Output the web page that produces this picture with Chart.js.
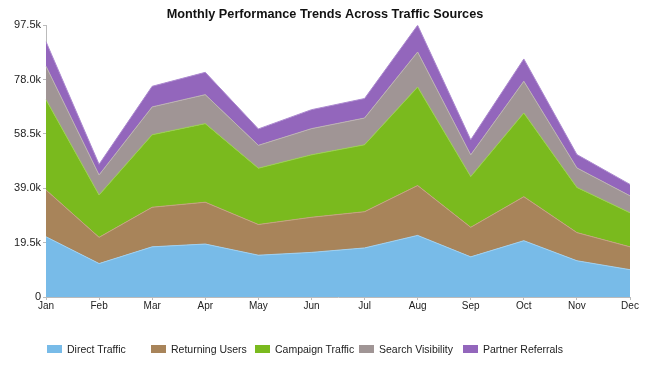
<!DOCTYPE html>
<html>
<head>
<meta charset="utf-8">
<script src="https://cdn.jsdelivr.net/npm/chart.js@4.4.1/dist/chart.umd.min.js"></script>
<style>
  body { margin: 0; background: #fff; }
  #wrap { position: relative; width: 650px; height: 366px; }
  #legend { position: absolute; left: 47px; top: 343px; display: flex; font: 10.5px "Liberation Sans", Arial, sans-serif; color: #222; }
  .item { width: 104px; display: flex; align-items: center; white-space: nowrap; }
  .box { width: 15px; height: 8px; margin-right: 5px; }
</style>
</head>
<body>
<div id="wrap">
  <canvas id="chart" width="650" height="366"></canvas>
  <div id="legend"></div>
</div>
<script>
const months = ['Jan', 'Feb', 'Mar', 'Apr', 'May', 'Jun', 'Jul', 'Aug', 'Sep', 'Oct', 'Nov', 'Dec'];
const directTraffic = [21600, 12000, 18000, 19000, 15000, 16000, 17600, 22100, 14400, 20200, 13000, 9800];
const returningUsers = [16800, 9400, 14200, 15000, 11000, 12600, 13000, 17900, 10600, 15800, 10100, 8200];
const campaignTraffic = [32400, 15200, 26000, 28200, 20200, 22400, 24000, 35300, 18200, 30000, 16200, 12200];
const searchVisibility = [12000, 7200, 10000, 10400, 8200, 9400, 9600, 12600, 7800, 11400, 7000, 6100];
const partnerReferrals = [8800, 3800, 7400, 8000, 5900, 6800, 7000, 9600, 5400, 8000, 4800, 4100];
const yTicks = [0, 19500, 39000, 58500, 78000, 97500];

const series = [
    { label: 'Direct Traffic', data: directTraffic, color: '#78bbe8', line: '#9fd0f0' },
    { label: 'Returning Users', data: returningUsers, color: '#a8845a', line: '#c4a480' },
    { label: 'Campaign Traffic', data: campaignTraffic, color: '#7aba1e', line: '#9ccf55' },
    { label: 'Search Visibility', data: searchVisibility, color: '#a09595', line: '#bdb3b3' },
    { label: 'Partner Referrals', data: partnerReferrals, color: '#9366bc', line: '#ad8bd0' }
];

const datasets = series.map((s, i) => ({
    label: s.label,
    data: s.data,
    backgroundColor: s.color,
    borderColor: s.line,
    borderWidth: 1,
    pointRadius: 0,
    tension: 0,
    fill: i === 0 ? 'origin' : '-1'
}));

const fontFamily = '"Liberation Sans", Arial, sans-serif';

new Chart(document.getElementById('chart'), {
    type: 'line',
    data: { labels: months, datasets: datasets },
    options: {
        responsive: false,
        animation: false,
        layout: { padding: { left: 0, right: 0, top: 0, bottom: 54 } },
        plugins: {
            legend: { display: false },
            tooltip: { enabled: false },
            title: {
                display: true,
                text: 'Monthly Performance Trends Across Traffic Sources',
                color: '#111',
                font: { family: fontFamily, size: 12.7, weight: 'bold' },
                padding: { top: 7, bottom: 3 }
            }
        },
        scales: {
            x: {
                offset: false,
                grid: { display: true, drawOnChartArea: false, tickLength: 3, color: '#bbb' },
                border: { display: true, color: '#bbb' },
                ticks: { color: '#222', font: { family: fontFamily, size: 10 }, padding: 0, maxRotation: 0, autoSkip: false }
            },
            y: {
                stacked: true,
                min: 0,
                max: 97500,
                afterFit: scale => { scale.width = 46; },
                afterBuildTicks: scale => { scale.ticks = yTicks.map(v => ({ value: v })); },
                grid: { display: true, drawOnChartArea: false, tickLength: 3, color: '#bbb' },
                border: { display: true, color: '#bbb' },
                ticks: {
                    color: '#222',
                    font: { family: fontFamily, size: 11 },
                    padding: 2,
                    callback: v => v === 0 ? '0' : (v / 1000).toFixed(1) + 'k'
                }
            },
            // empty right-hand axis, only reserves the right margin
            spacer: {
                type: 'linear',
                position: 'right',
                afterFit: scale => { scale.width = 20; },
                grid: { display: false },
                border: { display: false },
                ticks: { display: false }
            }
        }
    }
});

const legend = document.getElementById('legend');
series.forEach(s => {
    const item = document.createElement('div');
    item.className = 'item';
    item.innerHTML = '<span class="box" style="background:' + s.color + '"></span>' + s.label;
    legend.appendChild(item);
});
</script>
</body>
</html>
